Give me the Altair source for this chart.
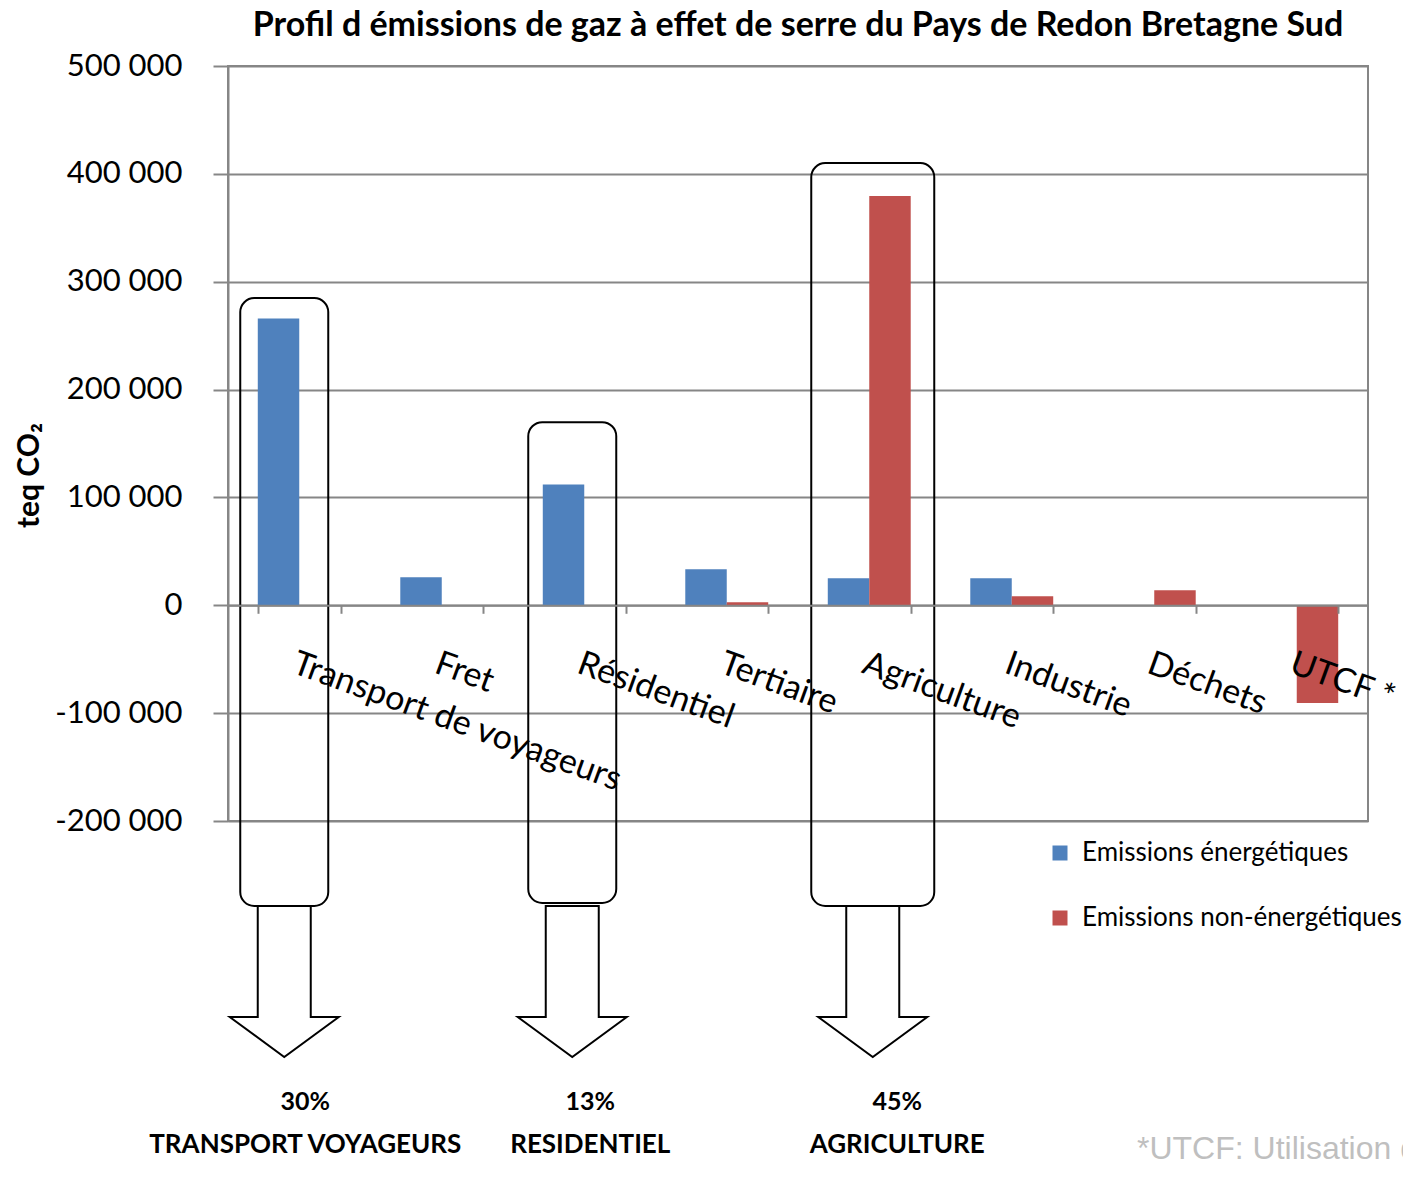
import altair as alt
import pandas as pd

# ---------------- data ----------------
categories = ["Transport de voyageurs", "Fret", "Résidentiel", "Tertiaire",
              "Agriculture", "Industrie", "Déchets", "UTCF *"]
energetiques = [266000, 26000, 112000, 33500, 25000, 25000, 0, 0]
non_energetiques = [0, 0, 0, 2800, 379500, 8300, 13900, -90500]
series = ["Emissions énergétiques", "Emissions non-énergétiques"]
colors = ["#4F81BD", "#C0504D"]
y_ticks = [-200000, -100000, 0, 100000, 200000, 300000, 400000, 500000]

highlight_categories = ["Transport de voyageurs", "Résidentiel", "Agriculture"]
highlight_shares = ["30%", "13%", "45%"]
highlight_names = ["TRANSPORT VOYAGEURS", "RESIDENTIEL", "AGRICULTURE"]
footnote_text = "*UTCF: Utilisation des terres,\nleur changement et la forêt"
title_text = "Profil d émissions de gaz à effet de serre du Pays de Redon Bretagne Sud"

# ---------------- tables ----------------
rows = []
for c, e, n in zip(categories, energetiques, non_energetiques):
    rows.append({"category": c, "series": series[0], "value": e})
    rows.append({"category": c, "series": series[1], "value": n})
df = pd.DataFrame(rows)
df = df[df["value"] != 0]

ann = pd.DataFrame({"category": highlight_categories,
                    "share": highlight_shares,
                    "name": highlight_names})

# ---------------- styling constants ----------------
W, H = 1140, 755
GRAY = "#868686"
FONT = "Lato"
Y_MIN, Y_MAX = -200000, 500000
PX_PER_UNIT = H / (Y_MAX - Y_MIN)

# annotation geometry (value units, px width, px x-shift)
box_geom = [
    (284800, -278800, 88, -15),
    (169800, -276000, 88, -12),
    (410000, -278800, 123, 3.5),
]
label_dx = [6, 6, 28]
ARROW_Y = -348800
SHARE_Y = -460500
NAME_Y = -500500
ARROW = "M -0.351 -1 L 0.351 -1 L 0.351 0.47 L 0.722 0.47 L 0 1 L -0.722 0.47 L -0.351 0.47 Z"

label_expr = ("datum.value == 0 ? '0' : replace(replace(format(datum.value, ','), ',', ' '), '\u2212', '-')")

X = alt.X(
    "category:N", sort=categories,
    scale=alt.Scale(domain=categories, paddingInner=0.418, paddingOuter=0.209),
    axis=alt.Axis(
        title=None, offset=-(0 - Y_MIN) * PX_PER_UNIT,
        labelAngle=20, labelAlign="left", labelBaseline="top", labelPadding=33,
        labelFont=FONT, labelFontSize=34, labelColor="black",
        labelOverlap=False, labelLimit=700, labelBound=False,
        tickBand="extent", tickSize=8, tickColor=GRAY, tickWidth=2,
        domainColor=GRAY, domainWidth=2, grid=False, zindex=1,
    ),
)

Y = alt.Y(
    "value:Q",
    scale=alt.Scale(domain=[Y_MIN, Y_MAX], nice=False, zero=False),
    axis=alt.Axis(
        values=y_ticks, labelExpr=label_expr,
        labelFont=FONT, labelFontSize=31, labelColor="black", labelPadding=31,
        tickSize=15, tickColor=GRAY, tickWidth=2,
        domainColor=GRAY, domainWidth=2,
        grid=True, gridColor=GRAY, gridWidth=2,
        title="teq CO₂", titleFont=FONT, titleFontWeight="bold", titleFontSize=30,
        titleColor="black", titleX=-190, titleY=409, titleBaseline="alphabetic",
    ),
)

bars = alt.Chart(df).mark_bar().encode(
    x=X,
    xOffset=alt.XOffset("series:N", sort=series),
    y=Y,
    color=alt.Color(
        "series:N", sort=series,
        scale=alt.Scale(domain=series, range=colors),
        legend=alt.Legend(
            orient="none", legendX=819, legendY=774, title=None,
            symbolType="square", symbolSize=225, symbolStrokeWidth=0,
            labelFont=FONT, labelFontSize=26, labelColor="black",
            labelOffset=9, rowPadding=39, padding=0, labelLimit=500,
        ),
    ),
)

layers = [bars]
for i, cat in enumerate(highlight_categories):
    top, bottom, bw, dx = box_geom[i]
    base = alt.Chart(ann).transform_filter(alt.datum.category == cat)
    layers.append(
        base.mark_bar(width=bw, xOffset=dx, cornerRadius=14, fill="white",
                      fillOpacity=0, stroke="black", strokeWidth=2)
        .encode(x=X, y=alt.datum(top), y2=alt.datum(bottom))
    )
    layers.append(
        base.mark_point(shape=ARROW, size=151 ** 2, filled=True, fill="white",
                        stroke="black", strokeWidth=2, opacity=1, xOffset=dx)
        .encode(x=X, y=alt.datum(ARROW_Y))
    )
    layers.append(
        base.mark_text(font=FONT, fontSize=25, fontWeight="bold", color="black",
                       dx=label_dx[i], baseline="middle")
        .encode(x=X, y=alt.datum(SHARE_Y), text="share:N")
    )
    layers.append(
        base.mark_text(font=FONT, fontSize=26, fontWeight="bold", color="black",
                       dx=label_dx[i], baseline="middle")
        .encode(x=X, y=alt.datum(NAME_Y), text="name:N")
    )

foot = alt.Chart(pd.DataFrame({"t": [footnote_text]})).mark_text(
    font="Liberation Sans", fontSize=32, color="#BFBFBF",
    align="left", baseline="top", lineBreak="\n", lineHeight=40,
).encode(x=alt.value(909), y=alt.value(1068), text="t:N")
layers.append(foot)

chart = alt.layer(*layers).properties(
    width=W, height=H,
    title=alt.Title(title_text, font=FONT, fontSize=34, fontWeight="bold",
                    color="black", anchor="middle", frame="group", offset=7),
    autosize=alt.AutoSizeParams(type="none"),
    padding={"left": 220, "top": 58, "right": 35, "bottom": 342},
).configure_view(stroke=GRAY, strokeWidth=2)

chart.save("out.html", embed_options={"renderer": "svg", "actions": False})
